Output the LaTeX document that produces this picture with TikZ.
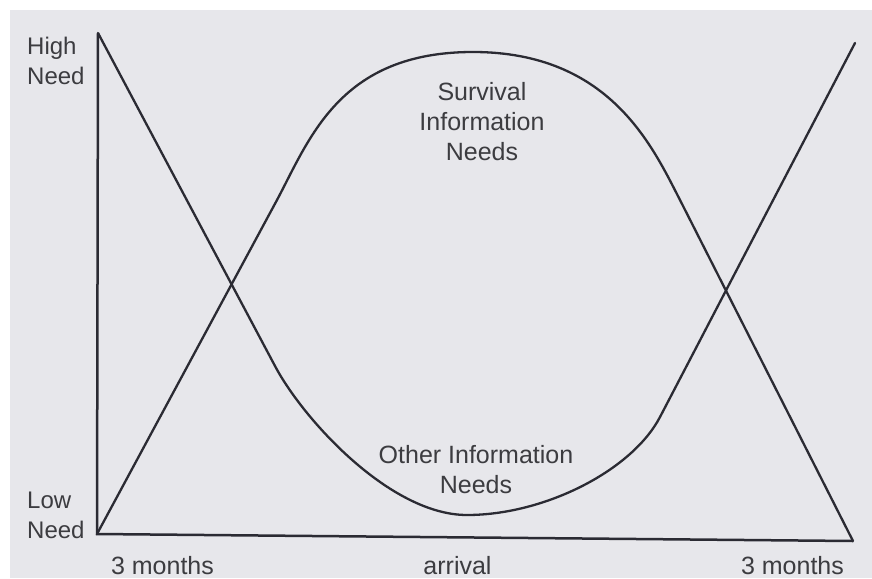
\documentclass[tikz,border=0pt]{standalone}
\usepackage{fontspec}
\setmainfont{Liberation Sans}
\definecolor{paper}{HTML}{E7E7EB}
\definecolor{ink}{HTML}{2B2B33}
\definecolor{txt}{HTML}{3C3C40}
\tikzset{
  curve/.style={draw=ink, line width=2.3pt, line join=round, line cap=round},
  axis/.style={draw=ink, line width=2.5pt, line join=miter},
  lab/.style={text=txt, inner sep=0pt, font=\fontsize{25}{30}\selectfont},
  sidelab/.style={text=txt, inner sep=0pt, align=left, anchor=north west, font=\fontsize{24}{30}\selectfont}
}
\begin{document}
\begin{tikzpicture}[x=1pt,y=-1pt]
\useasboundingbox (0,0) rectangle (872,578);
\fill[white] (0,0) rectangle (872,578);
\fill[paper] (10,10) rectangle (872,578);

% anchor coordinates
\coordinate (top) at (98,33);
\coordinate (origin) at (97,534);
\coordinate (xend) at (853,541);
\coordinate (rtop) at (855,43);

% axes
\draw[axis] (top) -- (origin) -- (xend);

% Survival information needs (rises, arcs over, falls)
\draw[curve] (origin) -- (277,200) .. controls (310,138) and (340,52) .. (473,52)
  .. controls (610,52) and (652.5,146.7) .. (680,200) -- (xend);

% Other information needs (falls, dips, rises)
\draw[curve] (top) -- (275,366) .. controls (303,419) and (390,515) .. (467,515)
  .. controls (545,515) and (632.2,470.2) .. (660,417) -- (rtop);

% labels
\node[sidelab] (high) at (27,37) {High\\Need};
\node[sidelab] (low) at (27,492) {Low\\Need};
\node[lab, align=center, anchor=north] (surv) at (482,82) {Survival\\Information\\Needs};
\node[lab, align=center, anchor=north] (other) at (476,445) {Other Information\\Needs};
\node[lab, anchor=base] (m1) at (162.5,574) {3 months};
\node[lab, anchor=base] (arr) at (457.5,574) {arrival};
\node[lab, anchor=base] (m2) at (792.5,574) {3 months};
\end{tikzpicture}
\end{document}
